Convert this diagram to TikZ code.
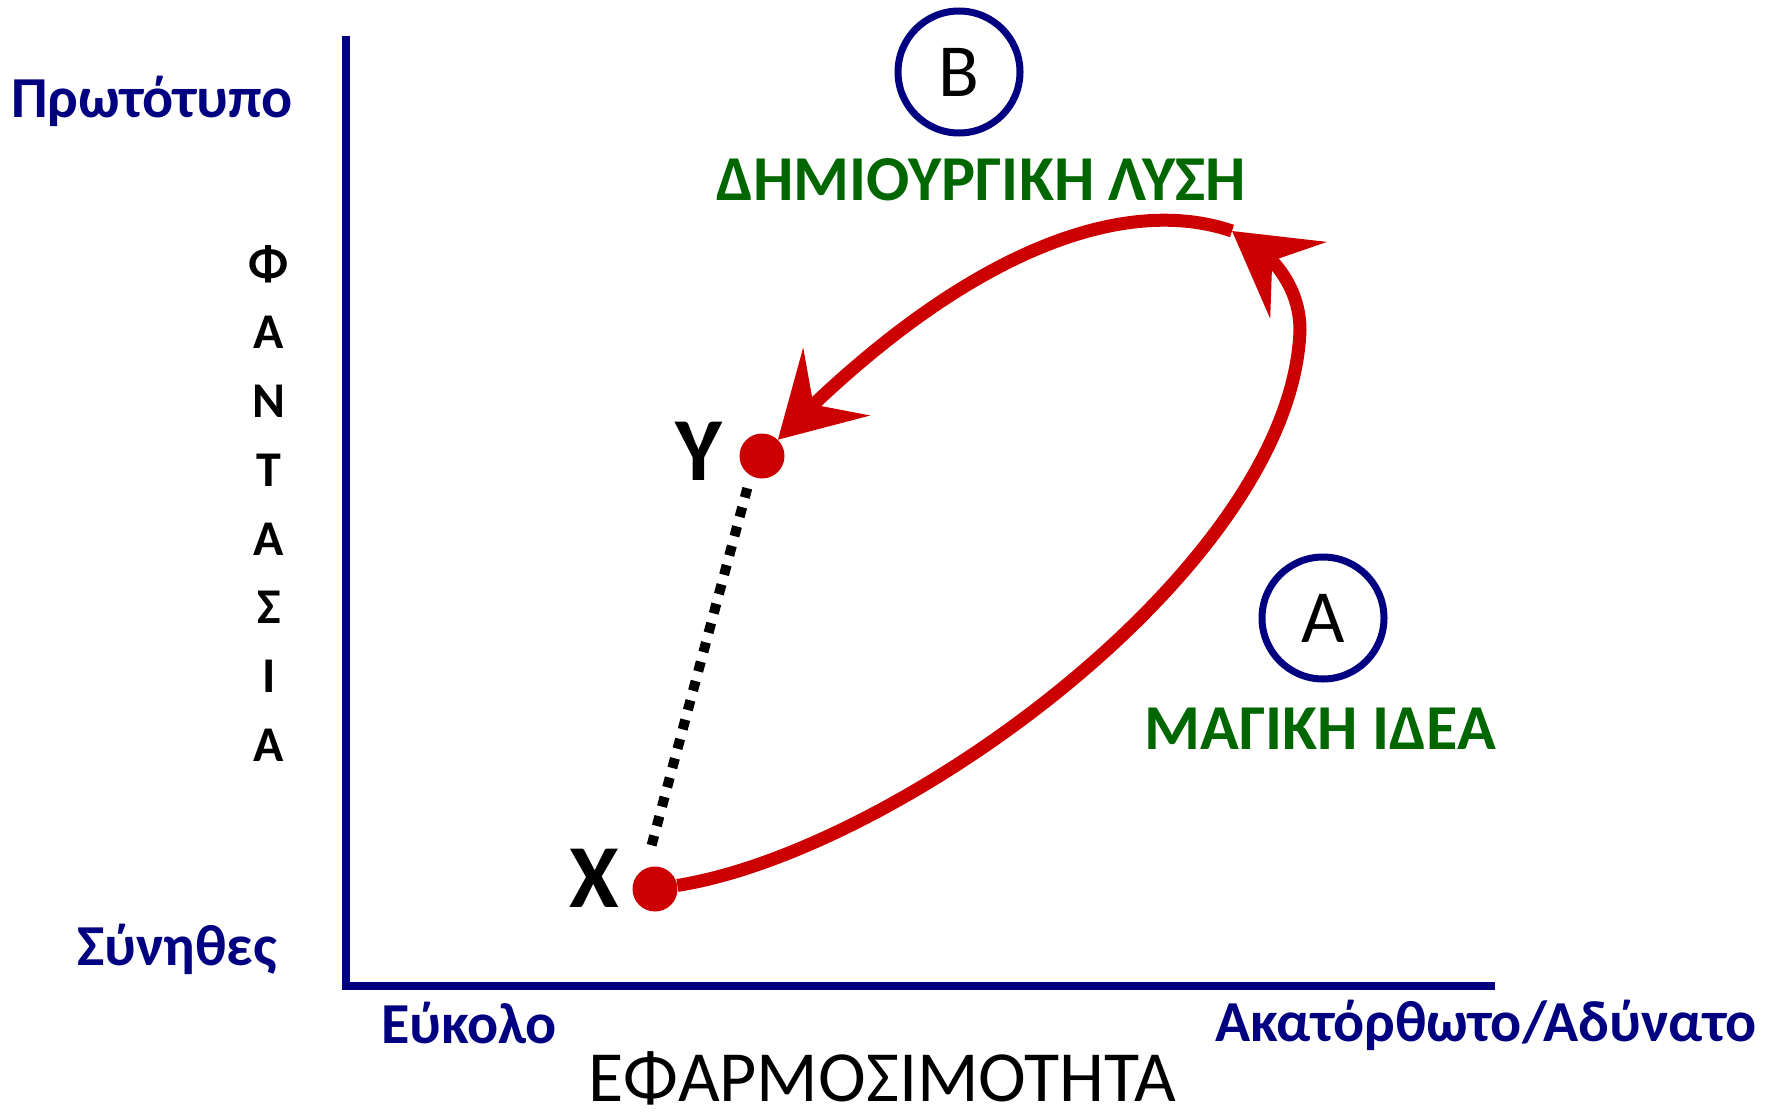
\documentclass[tikz,border=0pt]{standalone}
\usepackage{fontspec}
\setmainfont{Carlito}
\usetikzlibrary{arrows.meta,bending}

\begin{document}
\begin{tikzpicture}[x=1pt, y=-1pt,
    navylabel/.style={text=navy, font=\fontsize{58}{66}\selectfont\bfseries, inner sep=0pt, anchor=base},
    greenlabel/.style={text=darkgreen, font=\fontsize{64}{72}\selectfont\bfseries, inner sep=0pt, anchor=base},
    vletter/.style={font=\fontsize{50}{56}\selectfont\bfseries, inner sep=0pt},
    pointlabel/.style={font=\fontsize{90}{100}\selectfont\bfseries, inner sep=0pt},
    reddot/.style={circle, fill=curvered, minimum size=45pt, inner sep=0pt},
    stagecircle/.style={circle, draw=navy, line width=7pt, minimum size=122pt, inner sep=0pt, font=\fontsize{75}{80}\selectfont},
    loopline/.style={draw=curvered, line width=13pt},
    bigtip/.style={-{Stealth[length=82pt, width=94pt, inset=32pt]}}
]
    % Define colors
    \definecolor{navy}{RGB}{0,0,128}
    \definecolor{darkgreen}{RGB}{0,102,0}
    \definecolor{curvered}{RGB}{204,0,0}

    \useasboundingbox (0,0) rectangle (1767,1116);

    % Draw the axes
    \draw[navy, line width=8pt] (346,36) -- (346,990);
    \draw[navy, line width=8pt] (346,986) -- (1495,986);

    % Axis labels
    \node[navylabel] (proto) at (152,117) {Πρωτότυπο};
    \node[navylabel] (usual) at (177,965) {Σύνηθες};
    \node[navylabel] (easy) at (469,1043) {Εύκολο};
    \node[navylabel] (hard) at (1486,1041) {Ακατόρθωτο/Αδύνατο};
    \node[font=\fontsize{72}{80}\selectfont, inner sep=0pt, anchor=base] (applic) at (882,1101) {ΕΦΑΡΜΟΣΙΜΟΤΗΤΑ};

    % Vertical axis title
    \foreach \ch [count=\i from 0] in {Φ,Α,Ν,Τ,Α,Σ,Ι,Α}
        \node[vletter] (fan\i) at (269,{264+68.7*\i}) {\ch};

    % Stage circles and their labels
    \node[stagecircle] (stageB) at (959,72) {Β};
    \node[stagecircle] (stageA) at (1323,618) {Α};
    \node[greenlabel] (creative) at (981,200) {ΔΗΜΙΟΥΡΓΙΚΗ ΛΥΣΗ};
    \node[greenlabel] (magic) at (1320,749) {ΜΑΓΙΚΗ ΙΔΕΑ};

    % Points X and Y
    \node[reddot] (xdot) at (655,889) {};
    \node[reddot] (ydot) at (762,456) {};
    \node[pointlabel] (xlabel) at (594,878) {Χ};
    \node[pointlabel] (ylabel) at (699,451) {Υ};

    % Direct (dotted) link
    \draw[line width=10pt, dash pattern=on 10pt off 10pt, shorten <=24pt, shorten >=13pt] (xdot.115) -- (ydot.240);

    % Long way round
    \coordinate (turn) at (1232,231);
    \draw[loopline, bigtip] (xdot) .. controls (900,850) and (1292,565) .. (1300,330)
        .. controls (1300,285) and (1270,250) .. (turn);
    \draw[loopline, bigtip] (turn) .. controls (1118,192) and (955,258) .. (ydot);

\end{tikzpicture}
\end{document}
